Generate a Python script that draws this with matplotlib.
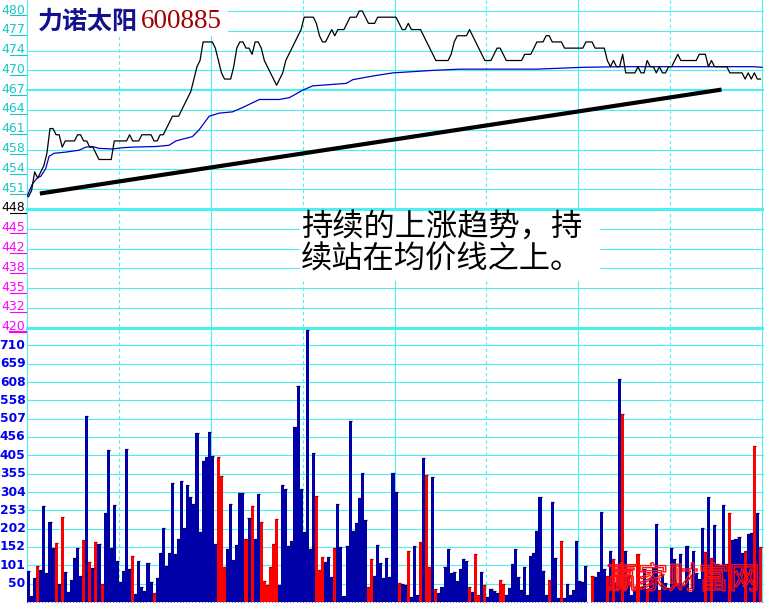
import numpy as np
import matplotlib
matplotlib.use("Agg")
import matplotlib.pyplot as plt
from matplotlib.lines import Line2D
from matplotlib.patches import Rectangle
from matplotlib import transforms
import matplotlib.patheffects as pe

# ---------------- data ----------------
title_name = "力诺太阳"
title_code = "600885"
note_line1 = "持续的上涨趋势，持"
note_line2 = "续站在均价线之上。"
watermark = "赢家财富网"

base_price = 4.48
price_step = 0.032
price_labels_up = ["451", "454", "458", "461", "464", "467", "470", "474", "477", "480"]
price_label_mid = "448"
price_labels_down = ["445", "442", "438", "435", "432", "420"]

vol_step = 50.7
vol_labels = ["50", "101", "152", "202", "253", "304", "355", "405", "456", "507",
              "558", "608", "659", "710"]

# minute close prices (in cents), 240 minutes
price_cents = [
    450, 451, 454, 453, 454, 455, 457, 461, 461, 460,
    460, 458, 459, 459, 459, 459, 460, 460, 459, 459,
    458, 458, 457, 456, 456, 456, 456, 456, 459, 459,
    459, 459, 459, 460, 459, 459, 459, 460, 460, 460,
    460, 459, 459, 460, 460, 461, 462, 463, 463, 463,
    464, 465, 466, 467, 469, 471, 472, 475, 475, 475,
    475, 474, 472, 470, 469, 469, 469, 471, 474, 475,
    475, 474, 474, 473, 475, 475, 474, 472, 471, 470,
    469, 468, 469, 470, 472, 473, 474, 475, 476, 477,
    479, 479, 479, 479, 478, 476, 475, 475, 476, 477,
    476, 477, 477, 477, 478, 479, 479, 479, 480, 480,
    479, 478, 478, 478, 479, 479, 479, 479, 479, 479,
    479, 478, 477, 477, 478, 477, 477, 477, 477, 476,
    475, 474, 473, 472, 472, 472, 472, 472, 473, 475,
    476, 476, 476, 476, 477, 476, 475, 474, 473, 472,
    472, 472, 473, 474, 474, 473, 472, 472, 472, 472,
    472, 472, 473, 473, 473, 474, 475, 475, 475, 476,
    476, 475, 475, 475, 475, 474, 474, 474, 474, 474,
    474, 474, 475, 475, 475, 474, 474, 474, 474, 472,
    471, 472, 471, 471, 473, 470, 470, 470, 470, 471,
    470, 470, 472, 471, 471, 470, 471, 470, 470, 471,
    471, 472, 473, 472, 472, 472, 472, 472, 472, 473,
    473, 473, 471, 472, 471, 471, 471, 471, 471, 470,
    470, 470, 470, 470, 469, 470, 469, 470, 469, 469,
]

# average price line (minute, cents)
avg_t = [0, 1.7, 3.3, 4.5, 6.1, 7.2, 8.8, 12.7, 17, 19.2, 21.4, 23.5, 27.9, 31.2,
         34.4, 42.1, 46.4, 48.6, 54, 56.2, 59.5, 62.8, 67.1, 70.4, 75.9, 82.4,
         85.7, 90, 93.3, 104.2, 106.4, 113, 119.5, 132.5, 141.3, 166.3, 181.6,
         193.6, 237.2, 240]
avg_cents = [450, 452, 453, 453.3, 454.5, 456.5, 457, 457.2, 457.5, 458, 458.1,
             457.8, 457.7, 457.9, 458, 458.1, 458.3, 459, 459.7, 460.8, 463,
             463.5, 463.7, 464.4, 465.7, 465.7, 466, 467.2, 467.9, 468.3, 468.9,
             469.5, 470, 470.4, 470.6, 470.6, 470.9, 471, 471, 470.9]

# hand-drawn trend line (minute, price)
trend_t = [4.2, 226.8]
trend_p = [4.505, 4.673]

# minute volumes
volume = [
    87, 17, 67, 100, 88, 265, 79, 222, 150, 164,
    49, 236, 84, 29, 60, 123, 150, 73, 171, 515,
    112, 93, 167, 160, 49, 245, 420, 150, 268, 114,
    54, 87, 423, 91, 128, 21, 114, 42, 31, 109,
    56, 24, 67, 135, 204, 100, 136, 330, 133, 174,
    335, 204, 324, 291, 271, 466, 193, 391, 400, 471,
    404, 161, 402, 348, 98, 147, 272, 116, 158, 302,
    302, 175, 233, 266, 174, 300, 222, 59, 47, 98,
    161, 230, 47, 324, 312, 156, 169, 485, 598, 313,
    194, 752, 147, 412, 294, 88, 125, 112, 125, 69,
    150, 272, 153, 17, 156, 501, 197, 218, 288, 358,
    227, 42, 120, 73, 159, 109, 67, 123, 69, 358,
    303, 53, 50, 47, 142, 15, 156, 19, 167, 399,
    351, 97, 347, 37, 26, 42, 98, 147, 79, 82,
    57, 90, 118, 114, 42, 29, 132, 18, 82, 47,
    15, 37, 30, 24, 62, 49, 20, 40, 105, 147,
    70, 33, 98, 19, 128, 135, 197, 291, 86, 18,
    62, 277, 123, 12, 169, 10, 51, 20, 33, 170,
    59, 56, 100, 0, 72, 70, 84, 250, 91, 73,
    142, 119, 55, 617, 521, 142, 70, 20, 32, 134,
    42, 91, 37, 65, 93, 217, 33, 77, 52, 38,
    150, 118, 52, 134, 47, 156, 29, 142, 79, 63,
    206, 139, 289, 123, 213, 104, 102, 269, 104, 245,
    171, 173, 181, 136, 141, 188, 192, 431, 247, 152,
]
volume_side = "".join([
    "BBBRBBBBBR", "BRBBBBBBRB", "RBRBRBBBBB", "BBBBRBBBBB", "BRBBBBBBBB",
    "BBBBBBBBBB", "BBRRRBBBBB", "BRBRBBRRRR", "RRBBBBBBBB", "BBBBRRRBBB",
    "RBBBBBBBBB", "BRRBBBBBBB", "BRBBRBBBRB", "RRBRBBBBBB", "BBBBRBRRBR",
    "BBBBRRBBBB", "BBBBBBBBBB", "RBBBRBBBBB", "BBBBRBBBBR", "BRBBRBBBBR",
    "BBRBBBRBBB", "BBBBBBBBBB", "BRBRBBBBBR", "BBBBRBBRBR",
])

# ---------------- style ----------------
W, H = 764, 603
GRID = "#4CF0F0"
BLUE_BAR = "#0000A8"
RED_BAR = "#FF0000"
CYAN_TXT = "#19C6C6"
MAG_TXT = "#FF00FF"
VOL_TXT = "#0000F0"
CJK = ["Noto Sans CJK SC", "DejaVu Sans"]

fig = plt.figure(figsize=(W / 100, H / 100), dpi=100)
fig.patch.set_facecolor("white")


def fx(px):
    return px / W


def fy(py):
    return 1 - py / H


X0, X1 = 27, 764
X_END = 762
PX_PER_MIN = (X_END - X0) / 240.0
xmax = (X1 - X0) / PX_PER_MIN

P_TOP, P_BOT = 0, 327
V_TOP, V_BOT = 327, 602
PX_PER_YUAN = 19.8 / price_step
Y_BASE = 209
p_hi = base_price + (Y_BASE - P_TOP) / PX_PER_YUAN
p_lo = base_price - (P_BOT - Y_BASE) / PX_PER_YUAN

ax_p = fig.add_axes([fx(X0), fy(P_BOT), (X1 - X0) / W, (P_BOT - P_TOP) / H])
ax_v = fig.add_axes([fx(X0), fy(V_BOT), (X1 - X0) / W, (V_BOT - V_TOP) / H])
vmax = vol_step * 15

for ax in (ax_p, ax_v):
    ax.set_xlim(0, xmax)
    for s in ax.spines.values():
        s.set_visible(False)
    ax.patch.set_visible(False)
    ax.set_yticks([])
ax_p.set_xticks([])
ax_p.set_ylim(p_lo, p_hi)
ax_v.set_ylim(0, vmax)
ax_v.set_xticks([])
ax_v.set_xticks(np.arange(0, 241), minor=True)
ax_v.tick_params(axis="x", which="minor", length=1.5, width=0.8, color=BLUE_BAR,
                 direction="out", labelbottom=False)

# vertical grid
for i in range(9):
    ls = "-" if i % 2 == 0 else (0, (3, 2.5))
    for ax in (ax_p, ax_v):
        ax.axvline(i * 30, color=GRID, lw=0.8, ls=ls, zorder=1, clip_on=False)

# price horizontal grid + labels
lab_tf = transforms.blended_transform_factory(fig.transFigure, ax_p.transData)
levels = []
for i, lab in enumerate(price_labels_up, start=1):
    levels.append((base_price + i * price_step, lab, CYAN_TXT))
levels.append((base_price, price_label_mid, "black"))
for i, lab in enumerate(price_labels_down, start=1):
    levels.append((base_price - i * price_step, lab, MAG_TXT))

one_px = 1.0 / PX_PER_YUAN
for val, lab, col in levels:
    if lab == price_label_mid or lab == price_labels_down[-1]:
        lw = 2.2
    elif lab == "467":
        lw = 1.5
    else:
        lw = 0.8
    ax_p.axhline(val, color=GRID, lw=lw, zorder=1, clip_on=False)
    fig.text(fx(1), val + one_px, lab, transform=lab_tf, fontsize=9, color=col,
             va="center", ha="left", family="DejaVu Sans")
    ulw = 1.6 if lab == price_labels_down[-1] else 0.8
    fig.add_artist(Line2D([fx(10), fx(26)], [val - 4.5 * one_px] * 2,
                          transform=lab_tf, color=col, lw=ulw))

# volume grid + labels
vlab_tf = transforms.blended_transform_factory(fig.transFigure, ax_v.transData)
for i, lab in enumerate(vol_labels, start=1):
    v = i * vol_step
    ax_v.axhline(v, color=GRID, lw=0.8, zorder=1)
    fig.text(fx(25.5), v, lab, transform=vlab_tf, fontsize=8.8, color=VOL_TXT,
             va="center", ha="right", family="DejaVu Sans", weight="bold")

# price, average, trend lines
t = np.arange(len(price_cents)) + 0.5
price = np.array(price_cents) / 100.0
avg = np.array(avg_cents) / 100.0
ax_p.plot(avg_t, avg, color="#0000C8", lw=0.9, zorder=3)
ax_p.plot(t, price, color="black", lw=0.9, zorder=4)
ax_p.plot(trend_t, trend_p, color="black", lw=3.0, zorder=5, solid_capstyle="butt")

# volume bars with darker caps
vt = np.arange(len(volume)) + 0.5
vol = np.array(volume, dtype=float)
is_red = np.array([c == "R" for c in volume_side])
cols = np.where(is_red, RED_BAR, BLUE_BAR)
ax_v.bar(vt, vol, width=1.0, color=cols, linewidth=0, zorder=2)
cap_cols = np.where(is_red, "#B00000", "#000060")
mask = vol > 0
ax_v.scatter(vt[mask], vol[mask], marker="_", s=5, c=cap_cols[mask],
             linewidths=0.9, zorder=3)

# title box
fig.add_artist(Rectangle((fx(27.6), fy(36)), (228 - 27.6) / W, 36 / H,
                         transform=fig.transFigure, facecolor="white",
                         edgecolor="none", zorder=1))
fig.text(fx(38), fy(22), title_name, fontsize=18, weight="bold", color="#12128C",
         va="center", ha="left", family=CJK, zorder=3)
fig.text(fx(141), fy(21.5), title_code, fontsize=19.5, color="#A00000",
         va="center", ha="left", family="Liberation Serif", zorder=3)

# note box
fig.add_artist(Rectangle((fx(300), fy(281)), 300 / W, (281 - 211) / H,
                         transform=fig.transFigure, facecolor="white",
                         edgecolor="none", zorder=1))
fig.text(fx(301), fy(228), note_line1, fontsize=22.5, color="black",
         va="center", ha="left", family=CJK, zorder=3)
fig.text(fx(301), fy(260), note_line2, fontsize=22.5, color="black",
         va="center", ha="left", family=CJK, zorder=3)

# watermark
fig.text(fx(607), fy(580), watermark, fontsize=22, color="none",
         va="center", ha="left", family=CJK, zorder=3,
         path_effects=[pe.Stroke(linewidth=1.0, foreground="#FF1010")])

fig.savefig("out.png", dpi=100, facecolor="white")
